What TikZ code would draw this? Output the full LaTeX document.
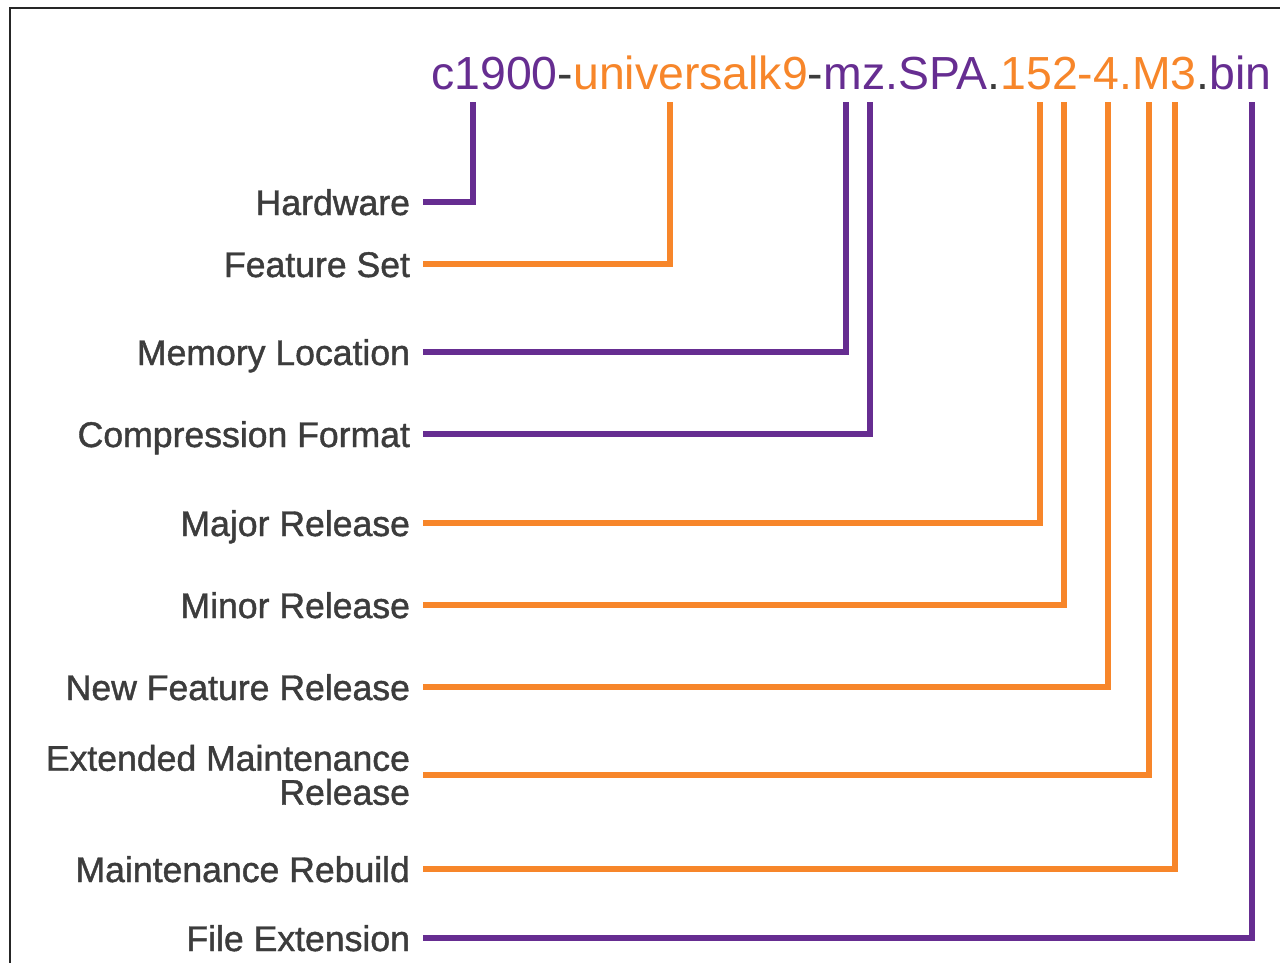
\documentclass[tikz,border=0pt]{standalone}
\usepackage{fontspec}
\setmainfont{Liberation Sans}
\newfontfamily\labelfont[FakeBold=1.2]{Liberation Sans}
\usetikzlibrary{positioning}
\definecolor{ciscopurple}{RGB}{102,45,145}
\definecolor{ciscoorange}{RGB}{247,134,42}
\definecolor{labelgray}{RGB}{60,60,60}
\newcommand{\pp}[1]{\textcolor{ciscopurple}{#1}}
\newcommand{\oo}[1]{\textcolor{ciscoorange}{#1}}
\newcommand{\kk}[1]{\textcolor{labelgray}{#1}}

\begin{document}
\begin{tikzpicture}[x=0.5pt, y=-0.5pt, line join=miter]
  \tikzset{labeltext/.style = { anchor=east, inner sep=0pt, outer xsep=6.5pt, align=right, text=labelgray, font=\labelfont\fontsize{17.8pt}{17pt}\selectfont }}
  \tikzset{labelbox/.style = { labeltext, text height=13pt, text depth=0pt }}
  \tikzset{titletext/.style = { anchor=base west, inner sep=0pt, font=\fontsize{23.2pt}{27pt}\selectfont }}
  \tikzset{purpleline/.style = { draw=ciscopurple, line width=3pt }}
  \tikzset{orangeline/.style = { draw=ciscoorange, line width=3pt }}
  \useasboundingbox (0,0) rectangle (1280,963);
  \fill[white] (0,0) rectangle (1280,963);
%  \draw [gray, very thin] (0,0) grid[step=100] (1280,963);

  % frame, cut off on the right and at the bottom
  \draw[black!85, line width=1pt] (10,8) rectangle (1320,1000);

  \node[name = fname, titletext] at (431,90) {\pp{c1900}\kk{-}\oo{universalk9}\kk{-}\pp{mz.SPA}\kk{.}\oo{152-4.M3}\kk{.}\pp{bin}};

  % where the lines meet the file name
  \coordinate (hwtop) at (473,102);
  \coordinate (fstop) at (670,102);
  \coordinate (mltop) at (846,102);
  \coordinate (cftop) at (870,102);
  \coordinate (majtop) at (1040,102);
  \coordinate (mintop) at (1064,102);
  \coordinate (nftop) at (1108,102);
  \coordinate (emtop) at (1149,102);
  \coordinate (mrtop) at (1175,102);
  \coordinate (fetop) at (1252,102);

  \node[name = hw, labelbox] at (423,202) {Hardware};
  \node[name = fs, labelbox] at (423,264) {Feature Set};
  \node[name = ml, labelbox] at (423,352) {Memory Location};
  \node[name = cf, labelbox] at (423,434) {Compression Format};
  \node[name = maj, labelbox] at (423,523) {Major Release};
  \node[name = min, labelbox] at (423,605) {Minor Release};
  \node[name = nf, labelbox] at (423,687) {New Feature Release};
  \node[name = em, labeltext] at (423,775) {Extended Maintenance\\Release};
  \node[name = mr, labelbox] at (423,869) {Maintenance Rebuild};
  \node[name = fe, labelbox] at (423,938) {File Extension};

  \draw [purpleline] (hw.east) -| (hwtop);
  \draw [orangeline] (fs.east) -| (fstop);
  \draw [purpleline] (ml.east) -| (mltop);
  \draw [purpleline] (cf.east) -| (cftop);
  \draw [orangeline] (maj.east) -| (majtop);
  \draw [orangeline] (min.east) -| (mintop);
  \draw [orangeline] (nf.east) -| (nftop);
  \draw [orangeline] (em.east) -| (emtop);
  \draw [orangeline] (mr.east) -| (mrtop);
  \draw [purpleline] (fe.east) -| (fetop);
\end{tikzpicture}
\end{document}
